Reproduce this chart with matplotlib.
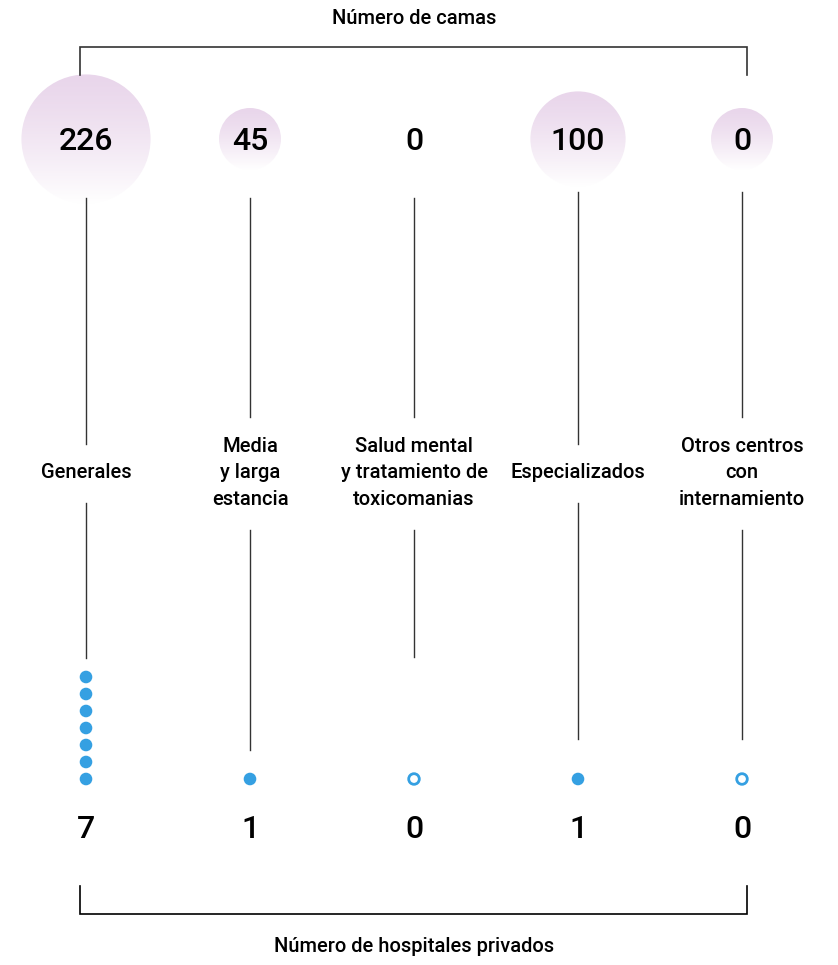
import numpy as np
import matplotlib.pyplot as plt
from matplotlib.patches import Circle

# Datos
categorias = ['Generales', 'Media\ny larga\nestancia', 'Salud mental\ny tratamiento de\ntoxicomanias',
              'Especializados', 'Otros centros\ncon\ninternamiento']
camas = [226, 45, 0, 100, 0]
hospitales = [7, 1, 0, 1, 0]
con_burbuja = [True, True, False, True, True]

titulo_sup = 'Número de camas'
titulo_inf = 'Número de hospitales privados'

# Estilo
FONT = 'Roboto'
AZUL = '#35a0e2'
LILA = np.array([233, 214, 235]) / 255
LINEA = '#333333'

W, H = 838, 965
fig = plt.figure(figsize=(W / 100, H / 100), dpi=100)
ax = fig.add_axes([0, 0, 1, 1])
ax.set_xlim(0, W)
ax.set_ylim(H, 0)
ax.axis('off')

xs = [86, 250, 414, 578, 742]
y_burbuja = 139
y_label = 473
y_dot0 = 779
paso_dot = 17
fin_tallo = [658, 750, 657, 739, 739]


def radio(v):
    # escala aproximada del original
    return 31 + 20.8 * np.log(max(v, 45) / 45)


# gradiente vertical lila -> blanco
t = np.linspace(0, 1, 200)[:, None] ** 1.3
grad = LILA[None, None, :] * (1 - t[..., None]) + np.ones(3)[None, None, :] * t[..., None]
grad = np.repeat(grad, 2, axis=1)

# corchete superior
ax.plot([80, 80, 747, 747], [75, 47, 47, 75], color=LINEA, lw=1.2, solid_joinstyle='miter')
ax.text(414, 18, titulo_sup, ha='center', va='center', fontsize=14.5, family=FONT, fontweight='medium')

# corchete inferior
ax.plot([80, 80, 747, 747], [886, 914, 914, 886], color='black', lw=1.2, solid_joinstyle='miter')
ax.text(414, 947, titulo_inf, ha='center', va='center', fontsize=14.5, family=FONT, fontweight='medium')

for i, x in enumerate(xs):
    r = radio(camas[i])
    if con_burbuja[i]:
        c = Circle((x, y_burbuja), r, facecolor='none', edgecolor='none')
        ax.add_patch(c)
        im = ax.imshow(grad, extent=(x - r, x + r, y_burbuja + r, y_burbuja - r),
                       origin='upper', aspect='auto', zorder=1)
        im.set_clip_path(c)
    ax.text(x, y_burbuja + 2, str(camas[i]), ha='center', va='center', fontsize=23,
            family=FONT, fontweight='medium', zorder=3)

    # etiqueta
    lineas = categorias[i].split('\n')
    n = len(lineas)
    for k, txt in enumerate(lineas):
        ax.text(x, y_label + (k - (n - 1) / 2) * 26.5, txt, ha='center', va='center',
                fontsize=14.5, family=FONT, fontweight='medium')
    medio = 13.5 * n + 16
    top = 192 if i >= 3 else 198
    ax.plot([x, x], [top, y_label - medio], color=LINEA, lw=1)
    ax.plot([x, x], [y_label + medio, fin_tallo[i]], color=LINEA, lw=1)

    # puntos de hospitales
    if hospitales[i] > 0:
        for k in range(hospitales[i]):
            ax.add_patch(Circle((x, y_dot0 - k * paso_dot), 6.3, facecolor=AZUL, edgecolor='none'))
    else:
        ax.add_patch(Circle((x, y_dot0), 5.3, facecolor='white', edgecolor=AZUL, lw=2))
    ax.text(x, 829, str(hospitales[i]), ha='center', va='center', fontsize=23,
            family=FONT, fontweight='medium')

fig.savefig('out.png', dpi=100)
